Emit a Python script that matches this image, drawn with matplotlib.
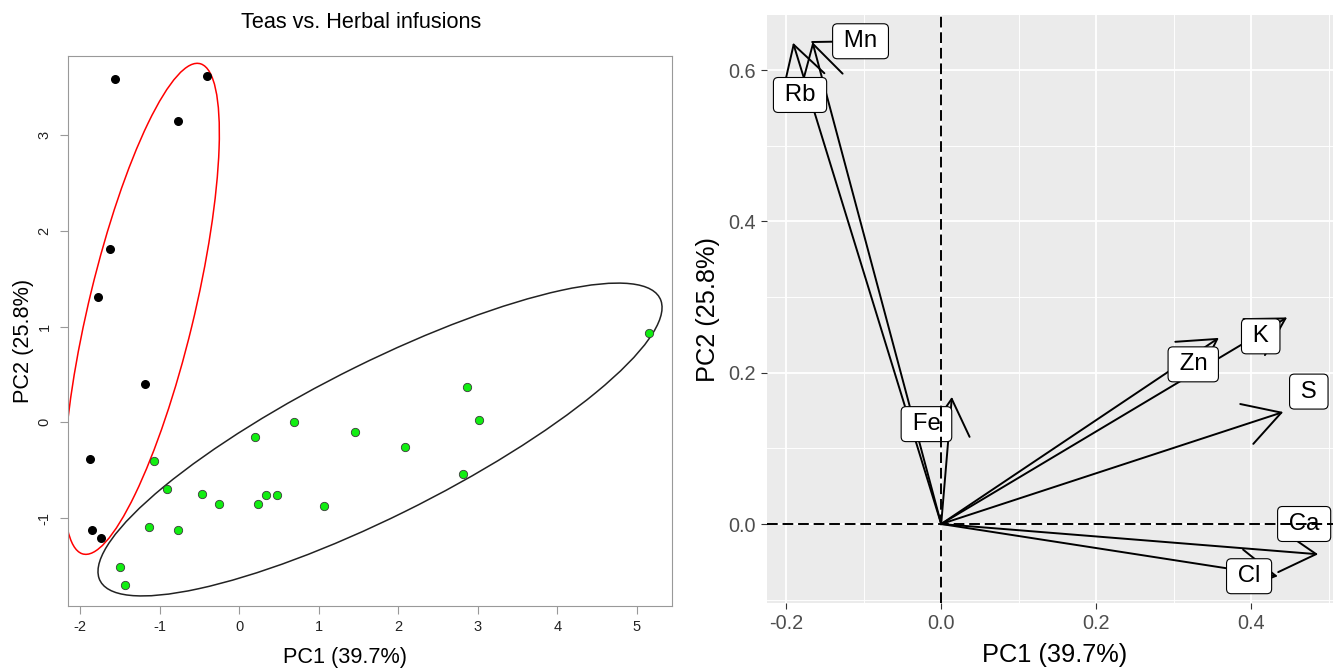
import matplotlib.pyplot as plt
from matplotlib.patches import Ellipse, FancyArrowPatch

plt.rcParams['font.family'] = ['Liberation Sans', 'DejaVu Sans']
plt.rcParams['axes.unicode_minus'] = False

# PCA scores, left panel
tea_pc1 = [-1.56, -0.41, -0.77, -1.63, -1.78, -1.19, -1.88, -1.85, -1.74]
tea_pc2 = [3.59, 3.62, 3.15, 1.81, 1.31, 0.40, -0.38, -1.12, -1.21]
herb_pc1 = [5.15, 2.87, 3.02, 0.69, 0.20, 1.45, 2.09, 2.82, -1.07, -0.91,
            -0.47, -0.25, 0.24, 0.34, 0.47, 1.06, -1.13, -0.77, -1.50, -1.44]
herb_pc2 = [0.93, 0.37, 0.02, 0.00, -0.15, -0.10, -0.26, -0.54, -0.40, -0.70,
            -0.75, -0.85, -0.85, -0.76, -0.76, -0.87, -1.09, -1.13, -1.51, -1.70]

# group ellipses: centre, width, height, angle
tea_ellipse = ((-1.23, 1.185), 5.33, 1.316, 73.7)
herb_ellipse = ((1.77, -0.18), 7.64, 1.63, 22.3)

# loadings, right panel
elements = ['Mn', 'Rb', 'Fe', 'Zn', 'K', 'S', 'Ca', 'Cl']
load_pc1 = [-0.166, -0.191, 0.0138, 0.358, 0.446, 0.441, 0.486, 0.434]
load_pc2 = [0.637, 0.636, 0.168, 0.246, 0.273, 0.148, -0.040, -0.069]
# where the repelled labels ended up
label_pc1 = [-0.104, -0.182, -0.019, 0.325, 0.412, 0.474, 0.468, 0.397]
label_pc2 = [0.638, 0.567, 0.132, 0.211, 0.248, 0.175, 0.0, -0.069]
label_segment = [True, False, False, False, False, False, False, False]

pc1_name = 'PC1 (39.7%)'
pc2_name = 'PC2 (25.8%)'

W, H = 1333, 670
fig = plt.figure(figsize=(W / 100, H / 100), dpi=100)


def group_ellipse(params, color):
    xy, w, h, ang = params
    return Ellipse(xy, w, h, angle=ang, fill=False, ec=color, lw=1.1, zorder=2)


# ---------------- left: base-R style score plot ----------------
ax1 = fig.add_axes([68 / W, (H - 606) / H, 604 / W, 550 / H])
ax1.add_patch(group_ellipse(tea_ellipse, 'red'))
ax1.add_patch(group_ellipse(herb_ellipse, '#222222'))
ax1.scatter(tea_pc1, tea_pc2, s=30, c='black', zorder=3)
ax1.scatter(herb_pc1, herb_pc2, s=36, c='#11EE11', edgecolors='#3a3a3a',
            linewidths=0.6, zorder=3)
ax1.set_xlim(-2.155, 5.443)
ax1.set_ylim(-1.919, 3.826)
ax1.set_xticks(range(-2, 6))
ax1.set_yticks(range(-1, 4))
for s in ax1.spines.values():
    s.set_color('#999999')
ax1.tick_params(length=5.8, color='#999999', labelsize=10.5, pad=4.3,
                labelcolor='#222222')
ax1.tick_params(axis='y', pad=6)
for lbl in ax1.get_yticklabels():
    lbl.set_rotation(90)
    lbl.set_va('center')
ax1.set_xlabel(pc1_name, fontsize=15.6, va='center')
ax1.xaxis.set_label_coords(0.4586, -0.093)
ax1.set_ylabel(pc2_name, fontsize=15.6, va='center')
ax1.yaxis.set_label_coords(-0.0745, 0.4818)
fig.text(361 / W, 1 - 23 / H, 'Teas vs. Herbal infusions', fontsize=15.6,
         ha='center', va='center')

# ---------------- right: ggplot style loadings ----------------
ax2 = fig.add_axes([767 / W, (H - 603) / H, (W - 767) / W, 588 / H])
ax2.set_facecolor('#EBEBEB')
for s in ax2.spines.values():
    s.set_visible(False)
ax2.set_xlim(-0.2246, 0.5052)
ax2.set_ylim(-0.1044, 0.6727)
ax2.set_xticks([-0.2, 0.0, 0.2, 0.4])
ax2.set_xticks([-0.1, 0.1, 0.3, 0.5], minor=True)
ax2.set_yticks([0.0, 0.2, 0.4, 0.6])
ax2.set_yticks([-0.1, 0.1, 0.3, 0.5], minor=True)
ax2.grid(which='major', color='white', lw=1.3)
ax2.grid(which='minor', color='white', lw=0.65)
ax2.set_axisbelow(True)
ax2.tick_params(which='major', length=4.4, color='#333333', width=0.8,
                labelsize=14.3, labelcolor='#4D4D4D', pad=3.8)
ax2.tick_params(which='minor', length=0)

for i, name in enumerate(elements):
    tip = (load_pc1[i], load_pc2[i])
    ax2.add_patch(FancyArrowPatch(
        (0, 0), tip, arrowstyle='->,head_length=26.2,head_width=15.1',
        mutation_scale=1, lw=1.4, color='black', shrinkA=0, shrinkB=0,
        zorder=3))
    if label_segment[i]:
        ax2.plot([tip[0], label_pc1[i]], [tip[1], label_pc2[i]],
                 color='black', lw=1.4, zorder=3)
    ax2.text(label_pc1[i], label_pc2[i], '\u2009' + name + '\u2009',
             fontsize=17.3, ha='center', va='center', zorder=4,
             bbox=dict(boxstyle='round,pad=0.27,rounding_size=0.2',
                       fc='white', ec='black', lw=0.8))

ax2.axhline(0, color='black', lw=1.4, dashes=(5.5, 2.5), zorder=5)
ax2.axvline(0, color='black', lw=1.4, dashes=(5.5, 2.5), zorder=5)

ax2.set_xlabel(pc1_name, fontsize=18.3, va='center')
ax2.xaxis.set_label_coords(0.509, -0.0884)
ax2.set_ylabel(pc2_name, fontsize=18.3, va='center')
ax2.yaxis.set_label_coords(-0.1034, 0.5)

fig.savefig('out.png', dpi=100)
